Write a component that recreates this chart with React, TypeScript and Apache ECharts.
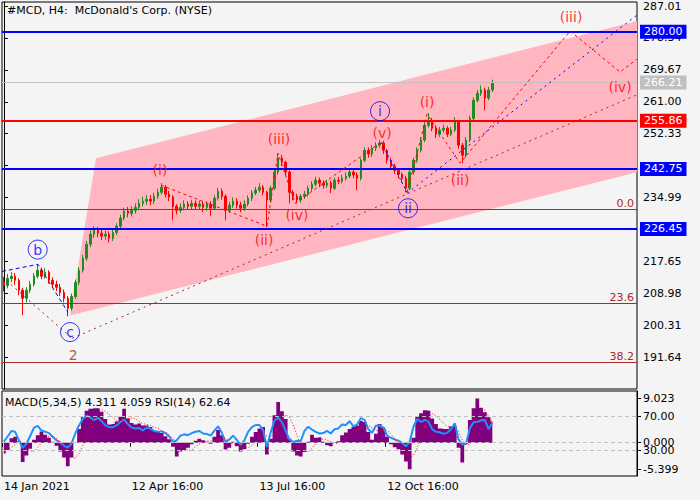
import React, { useEffect, useRef } from 'react';
import * as echarts from 'echarts';

const FONT = "'DejaVu Sans', sans-serif";
const N_SLOTS = 169;

const firstOpen = 212.0;
const closes = [
  211.1, 213.0, 213.6, 212.5, 209.8, 207.6, 209.8, 211.4, 213.6, 215.2,
  213.6, 214.7, 212.5, 211.4, 210.6, 209.2, 207.6, 204.9, 208.1, 211.9,
  215.2, 218.5, 222.3, 225.0, 226.1, 225.3, 224.5, 225.0, 223.9, 225.5,
  227.2, 229.4, 231.3, 230.7, 231.5, 232.3, 233.4, 234.0, 234.5, 234.0,
  235.3, 236.4, 237.8, 235.9, 235.1, 232.6, 231.5, 232.3, 233.2, 232.6,
  233.4, 232.6, 233.2, 232.3, 233.2, 232.1, 234.8, 236.7, 235.3, 231.5,
  232.9, 234.0, 232.9, 232.1, 233.2, 234.8, 236.2, 237.0, 237.8, 236.4,
  234.3, 237.5, 241.9, 245.7, 244.6, 241.9, 236.4, 235.3, 234.3, 235.3,
  235.9, 237.5, 238.6, 239.7, 238.9, 238.3, 238.9, 237.5, 239.7, 239.4,
  240.2, 240.8, 241.9, 241.1, 240.2, 245.1, 247.8, 246.8, 248.4, 249.2,
  249.8, 247.8, 245.1, 243.5, 242.4, 241.3, 240.2, 237.5, 241.9, 245.1,
  247.8, 250.6, 254.6, 256.0, 253.8, 252.2, 253.3, 253.8, 252.2, 253.3,
  255.5, 249.2, 246.5, 250.6, 256.5, 261.4, 263.3, 264.2, 262.0, 264.2,
  266.21,
];
const highs = [
  213.4, 214.2, 214.8, 214.5, 213.0, 210.5, 210.6, 212.3, 214.5, 216.8,
  216.0, 215.8, 215.2, 213.3, 212.4, 211.5, 210.0, 208.2, 208.9, 212.7,
  216.0, 219.4, 223.2, 226.0, 227.2, 227.0, 226.3, 226.0, 225.8, 226.4,
  228.0, 230.3, 232.2, 232.4, 232.6, 233.4, 234.5, 235.2, 235.6, 235.6,
  236.3, 237.4, 238.9, 238.4, 236.8, 235.6, 233.2, 233.4, 234.2, 234.0,
  234.4, 234.2, 234.2, 234.0, 234.0, 234.0, 235.6, 237.6, 237.4, 235.8,
  233.8, 235.0, 234.8, 233.8, 234.2, 235.6, 237.0, 237.9, 238.9, 238.4,
  236.8, 238.2, 242.6, 247.0, 246.6, 245.0, 242.4, 237.0, 236.0, 236.0,
  236.8, 238.2, 239.4, 240.6, 240.4, 239.6, 239.8, 239.6, 240.4, 240.6,
  241.2, 241.8, 242.8, 242.6, 241.8, 245.8, 248.6, 248.6, 249.2, 250.0,
  250.6, 250.4, 248.2, 245.8, 244.2, 243.0, 241.8, 240.8, 242.6, 245.8,
  248.6, 251.4, 255.4, 257.9, 256.6, 254.6, 254.2, 254.8, 254.4, 254.2,
  256.8, 255.8, 249.8, 251.4, 257.2, 262.2, 264.2, 265.4, 264.8, 265.0,
  267.0,
];
const lows = [
  209.5, 210.3, 212.0, 211.2, 208.4, 203.0, 206.5, 209.0, 210.8, 213.0,
  212.8, 212.9, 211.6, 210.4, 209.6, 208.2, 206.5, 202.7, 204.2, 207.5,
  211.2, 214.6, 217.8, 221.5, 224.0, 224.2, 223.4, 223.5, 222.8, 223.2,
  224.8, 226.6, 228.8, 229.6, 229.8, 230.6, 231.6, 232.6, 233.0, 232.9,
  233.2, 234.6, 235.8, 235.0, 234.0, 228.8, 230.4, 230.8, 231.5, 231.6,
  231.8, 231.6, 231.8, 231.0, 231.4, 230.0, 231.6, 234.2, 234.4, 228.8,
  230.8, 232.2, 232.0, 231.0, 231.4, 232.6, 234.0, 235.6, 236.4, 235.6,
  226.9, 233.6, 237.0, 241.2, 243.6, 240.8, 233.4, 234.2, 233.4, 233.6,
  234.6, 235.2, 236.8, 238.0, 237.8, 237.4, 237.6, 236.2, 237.0, 238.6,
  238.8, 239.6, 240.2, 240.2, 237.0, 239.6, 244.6, 245.8, 246.0, 247.6,
  248.4, 246.8, 244.2, 242.6, 241.4, 240.2, 239.0, 236.4, 237.0, 241.2,
  244.4, 247.2, 250.0, 254.0, 253.0, 251.2, 251.4, 252.6, 251.4, 251.6,
  252.8, 248.2, 244.3, 245.8, 250.0, 256.0, 260.8, 262.6, 258.7, 261.4,
  263.6,
];

const macdHist = [
  -2.2, -1.5, 0.9, 1.2, 0.3, -3.9, -2.6, -1.2, 0.6, 1.5,
  2.3, 1.6, 1.0, 0.2, -0.6, -1.8, -3.0, -4.8, -3.0, 0.0,
  2.8, 5.2, 6.5, 6.9, 7.0, 7.0, 6.3, 4.8, 3.7, 3.8,
  4.3, 5.3, 6.9, 4.9, 4.0, 3.7, 3.9, 3.5, 3.5, 3.2,
  2.4, 2.2, 2.0, 1.3, 0.7, -0.8, -2.8, -1.8, -1.5, -1.0,
  -0.3, 0.4, 0.8, 0.5, 0.2, -0.2, 1.2, 2.6, 1.5, -1.4,
  -1.0, 0.2, -0.7, -1.8, -1.3, -0.2, 1.2, 2.2, 2.9, 3.2,
  -2.4, 0.8, 5.6, 8.3, 6.4, 4.8, 0.8, -1.8, -2.6, -2.8,
  -1.9, 0.2, 1.6, 1.0, 1.1, 0.2, -0.5, -0.7, 0.1, 0.3,
  1.5, 2.1, 2.8, 3.2, 3.5, 4.4, 4.2, 2.2, 0.6, 1.8,
  3.8, 3.1, 1.2, -0.3, -0.9, -1.3, -2.4, -3.8, -5.4, 1.0,
  5.4, 6.0, 6.6, 6.5, 4.9, 3.8, 2.9, 2.8, 2.8, 3.3,
  3.4, -1.0, -4.0, -0.2, 4.6, 7.0, 9.0, 7.1, 6.2, 5.2,
  4.311,
];
const macdSignal = [
  -1.0, -1.4, -1.0, -0.4, 0.2, -0.5, -1.2, -1.6, -1.8, -1.0,
  0.0, 0.9, 1.3, 1.3, 0.9, 0.1, -0.8, -1.9, -2.9, -3.1,
  -2.2, -0.6, 1.3, 3.3, 5.0, 6.2, 6.7, 6.4, 5.8, 5.1,
  4.5, 4.4, 4.7, 4.9, 5.0, 4.9, 4.3, 3.9, 3.7, 3.5,
  3.2, 2.9, 2.5, 2.1, 1.6, 0.8, -0.2, -0.9, -1.3, -1.6,
  -1.5, -0.8, -0.3, 0.1, 0.4, 0.3, 0.4, 0.9, 1.2, 0.7,
  0.1, -0.2, -0.5, -0.8, -1.0, -1.0, -0.6, 0.1, 0.9, 1.9,
  1.4, 1.2, 1.9, 3.2, 4.6, 5.7, 5.2, 3.6, 1.5, -0.5,
  -1.6, -1.9, -1.1, -0.2, 0.4, 0.8, 0.5, 0.2, -0.1, -0.1,
  0.3, 0.8, 1.6, 2.2, 2.6, 3.2, 3.6, 3.5, 3.0, 2.5,
  2.4, 2.6, 2.5, 1.8, 0.9, -0.1, -1.0, -1.9, -3.0, -2.6,
  -1.0, 1.2, 3.4, 5.1, 5.9, 5.5, 4.8, 4.0, 3.3, 3.1,
  3.1, 2.3, 0.6, -0.4, -0.4, 1.3, 4.5, 6.8, 6.6, 5.4,
  4.059,
];
const rsi = [
  40.5, 46.5, 53, 52, 42, 33, 38, 47, 57, 59,
  53.5, 52, 50.5, 46, 42, 39.5, 35.5, 33.5, 38, 50,
  59.5, 67, 71, 69, 65.5, 68.5, 64.5, 59.5, 57.5, 57.5,
  59.5, 63.5, 66.5, 61, 57, 56, 56.5, 53.5, 57, 55.5,
  53, 52, 52.5, 50.5, 46.5, 40, 42, 47.5, 49, 48,
  50.5, 52, 53, 50, 49.5, 47.5, 53, 58.5, 51, 40,
  43, 47.5, 42.5, 36.5, 42, 52, 57.4, 60, 60, 54,
  34, 51, 65, 68.5, 63.5, 53, 43, 40, 41.5, 41,
  53, 58, 54.5, 52, 50, 50.5, 53, 50, 55, 56,
  60.5, 60, 64.5, 58.5, 60.5, 68, 66, 55, 51, 59,
  59.5, 57, 47.6, 45, 43, 41.5, 39, 35, 40, 58,
  67, 63.5, 66, 64, 55, 52, 51.5, 49.6, 51, 55,
  62, 43, 37, 38, 56, 63.3, 63.5, 65.5, 66, 55,
  62.64,
];

// price-axis ticks; the labels hidden under the level boxes in the reference are left out
const priceTicks = [191.64, 200.31, 208.98, 217.65, 226.32, 234.99, 243.66, 252.33, 261.0, 269.67, 278.34, 287.01];
const priceTickLabels = [191.64, 200.31, 208.98, 217.65, 234.99, 252.33, 261.0, 269.67, 278.34, 287.01];
const macdTicks = [9.023, 0, -5.399];
const rsiTicks = [70, 30];
const xTickIdx = [0, 34, 68, 102];
const xTickText = ['14 Jan 2021', '12 Apr 16:00', '13 Jul 16:00', '12 Oct 16:00'];

const levelValues = [280.0, 266.21, 255.86, 242.75, 226.45];
const levelColors = ['#0000ff', '#c0c0c0', '#ff0000', '#0000ff', '#0000ff'];
const levelWidths = [2, 1, 2, 2, 2];
const fibValues = [231.72, 206.15, 190.11];
const fibTexts = ['0.0', '23.6', '38.2'];

// annotation anchors: [bar index, price]
const channel = [[24.52, 245.67], [168.5, 282.93], [168.5, 241.86], [17.6, 202.97]];
const waveRedA = [[41.82, 238.33], [70.03, 227.18], [72.96, 247.03], [77.49, 233.43], [100.38, 250.02]];
const waveRedB = [[107.3, 236.42], [112.62, 257.64], [121.41, 244.31], [150.69, 280.21], [164.0, 269.06], [168.5, 272.59]];
const waveBlueABC = [[-0.5, 214.9], [9.08, 216.84], [17.07, 203.79]];
const waveBlueI = [[100.38, 250.02], [107.3, 236.42]];
const trendBlue = [[107.3, 236.15], [168.5, 284.56]];
const trendBrownA = [[-0.5, 213.5], [18.13, 196.72]];
const trendBrownB = [[18.13, 196.72], [168.5, 262.89]];

const circleText = ['b', 'c', 'i', 'ii'];
const circlePos = [[9.0, 220.84], [17.6, 198.43], [100.11, 258.45], [107.56, 232.07]];
const waveText = ['(i)', '(ii)', '(iii)', '(iv)', '(v)', '(i)', '(ii)', '(iii)', '(iv)', '2'];
const wavePos = [
  [41.55, 242.41], [69.24, 223.37], [73.23, 250.84], [78.0, 230.17], [100.64, 252.47],
  [112.62, 260.98], [121.41, 239.69], [150.95, 284.1], [163.99, 264.98], [18.48, 192.09],
];
const waveColors = ['#ff0000', '#ff0000', '#ff0000', '#ff0000', '#ff0000', '#ff0000', '#ff0000', '#ff0000', '#ff0000', '#a52a2a'];

const GREEN = '#228b22';
const RED = '#ff0000';

function buildOption(): any {
  const cats = Array.from({ length: N_SLOTS }, (_, i) => String(i));
  const ohlc = closes.map((c, i) => [i === 0 ? firstOpen : closes[i - 1], c, lows[i], highs[i]]);
  const showTick = (idx: number) => xTickIdx.indexOf(idx) >= 0;

  const lineSeries = (data: number[][], color: string, dash: number[], z = 5) => ({
    type: 'line',
    xAxisIndex: 1,
    yAxisIndex: 0,
    data,
    symbol: 'none',
    silent: true,
    z,
    lineStyle: { color, width: 1, type: dash },
  });

  const levelLines = levelValues.map((v, i) => ({
    yAxis: v,
    lineStyle: { color: levelColors[i], width: levelWidths[i], type: 'solid' },
    label: {
      show: true,
      position: 'end',
      distance: 3,
      formatter: v.toFixed(2),
      color: '#ffffff',
      backgroundColor: levelColors[i],
      padding: [1, 4, 1, 4],
      lineHeight: 12,
      fontSize: 11,
      fontFamily: FONT,
    },
  }));
  const fibLines = fibValues.map((v, i) => ({
    yAxis: v,
    lineStyle: { color: '#a52a2a', width: 1, type: 'solid' },
    label: {
      show: true,
      position: 'insideEndTop',
      distance: [3, 1],
      formatter: fibTexts[i],
      color: '#a52a2a',
      fontSize: 11,
      fontFamily: FONT,
    },
  }));

  const labelStyle = { fontFamily: FONT, fontSize: 11, color: '#000' };

  return {
    animation: false,
    backgroundColor: '#f4f4f4',
    textStyle: { fontFamily: FONT, fontSize: 11 },
    title: [
      {
        text: "#MCD, H4:  McDonald's Corp. (NYSE)",
        left: 7,
        top: 5,
        padding: 0,
        textStyle: { fontFamily: FONT, fontSize: 11, fontWeight: 'normal', color: '#000' },
      },
      {
        text: 'MACD(5,34,5) 4.311 4.059 RSI(14) 62.64',
        left: 5,
        top: 397,
        padding: 0,
        textStyle: { fontFamily: FONT, fontSize: 11, fontWeight: 'normal', color: '#000' },
      },
    ],
    grid: [
      { left: 2, right: 63, top: 2, height: 387, show: true, borderColor: '#000', borderWidth: 1, backgroundColor: '#f4f4f4' },
      { left: 2, right: 63, top: 391, height: 85, show: true, borderColor: '#000', borderWidth: 1, backgroundColor: '#f4f4f4' },
    ],
    xAxis: [
      { type: 'category', gridIndex: 0, data: cats, show: false },
      { type: 'value', gridIndex: 0, min: -0.5, max: N_SLOTS - 0.5, show: false },
      {
        type: 'category',
        gridIndex: 1,
        data: cats,
        axisLine: { show: false },
        axisTick: {
          show: true,
          alignWithLabel: false,
          interval: (idx: number) => showTick(idx),
          length: 4,
          lineStyle: { color: '#000' },
        },
        axisLabel: {
          interval: (idx: number) => showTick(idx),
          formatter: (v: string) => {
            const k = xTickIdx.indexOf(Number(v));
            return k >= 0 ? xTickText[k] : '';
          },
          align: 'left',
          margin: 5,
          ...labelStyle,
        },
        splitLine: { show: false },
      },
    ],
    yAxis: [
      {
        type: 'value',
        gridIndex: 0,
        position: 'right',
        min: 182.97,
        max: 288.1,
        axisLine: { show: true, lineStyle: { color: '#000' } },
        axisTick: { show: true, customValues: priceTicks, length: 4, lineStyle: { color: '#000' } },
        axisLabel: { customValues: priceTickLabels, formatter: (v: number) => v.toFixed(2), margin: 6, ...labelStyle },
        splitLine: { show: false },
      },
      {
        type: 'value',
        gridIndex: 1,
        position: 'right',
        min: -6.76,
        max: 10.51,
        axisLine: { show: true, lineStyle: { color: '#000' } },
        axisTick: { show: true, customValues: macdTicks, length: 4, lineStyle: { color: '#000' } },
        axisLabel: { customValues: macdTicks, formatter: (v: number) => v.toFixed(3), margin: 6, ...labelStyle },
        splitLine: { show: false },
      },
      {
        type: 'value',
        gridIndex: 1,
        position: 'right',
        min: 0,
        max: 100,
        axisLine: { show: false },
        axisTick: { show: true, customValues: rsiTicks, length: 4, lineStyle: { color: '#000' } },
        axisLabel: { customValues: rsiTicks, formatter: (v: number) => v.toFixed(2), margin: 6, ...labelStyle },
        splitLine: { show: false },
      },
    ],
    series: [
      {
        type: 'custom',
        xAxisIndex: 1,
        yAxisIndex: 0,
        silent: true,
        z: 1,
        data: [channel[0]],
        renderItem: (_params: any, api: any) => ({
          type: 'polygon',
          shape: { points: channel.map((p) => api.coord(p)) },
          style: { fill: '#ffb6c1' },
        }),
      },
      {
        type: 'candlestick',
        xAxisIndex: 0,
        yAxisIndex: 0,
        data: ohlc,
        barWidth: 2,
        z: 3,
        itemStyle: { color: GREEN, color0: RED, borderColor: GREEN, borderColor0: RED, borderWidth: 1 },
        markLine: {
          silent: true,
          symbol: ['none', 'none'],
          animation: false,
          data: [...fibLines, ...levelLines],
        },
      },
      lineSeries(trendBrownA, '#a52a2a', [2, 4]),
      lineSeries(trendBrownB, '#a52a2a', [2, 4]),
      lineSeries(waveBlueABC, '#0000ff', [4, 3]),
      lineSeries(waveBlueI, '#0000ff', [2, 3]),
      lineSeries(trendBlue, '#0000ff', [2, 4]),
      lineSeries(waveRedA, '#ff0000', [3, 3]),
      lineSeries(waveRedB, '#ff0000', [3, 3]),
      {
        type: 'scatter',
        xAxisIndex: 1,
        yAxisIndex: 0,
        silent: true,
        z: 6,
        symbol: 'circle',
        symbolSize: 19,
        itemStyle: { color: 'rgba(0,0,0,0)', borderColor: '#0000ff', borderWidth: 1 },
        data: circlePos.map((p, i) => ({
          value: p,
          label: { show: true, position: 'inside', formatter: circleText[i], color: '#0000ff', fontSize: 14, fontFamily: FONT },
        })),
      },
      {
        type: 'scatter',
        xAxisIndex: 1,
        yAxisIndex: 0,
        silent: true,
        z: 6,
        symbolSize: 1,
        itemStyle: { color: 'rgba(0,0,0,0)' },
        data: wavePos.map((p, i) => ({
          value: p,
          label: { show: true, position: 'inside', formatter: waveText[i], color: waveColors[i], fontSize: 14, fontFamily: FONT },
        })),
      },
      {
        // MACD histogram drawn as a stepped filled area so the columns join without seams
        type: 'line',
        xAxisIndex: 2,
        yAxisIndex: 1,
        data: macdHist,
        step: 'middle',
        symbol: 'none',
        silent: true,
        z: 2,
        lineStyle: { width: 0, color: '#800080' },
        areaStyle: { color: '#800080', opacity: 1, origin: 0 },
        markLine: {
          silent: true,
          symbol: ['none', 'none'],
          label: { show: false },
          lineStyle: { color: '#c0c0c0', type: [4, 3], width: 1 },
          data: [{ yAxis: 0 }],
        },
      },
      {
        type: 'line',
        xAxisIndex: 2,
        yAxisIndex: 2,
        data: rsi,
        symbol: 'none',
        silent: true,
        z: 3,
        lineStyle: { color: '#1e90ff', width: 2 },
        markLine: {
          silent: true,
          symbol: ['none', 'none'],
          label: { show: false },
          lineStyle: { color: '#c0c0c0', type: [4, 3], width: 1 },
          data: rsiTicks.map((v) => ({ yAxis: v })),
        },
      },
      {
        type: 'line',
        xAxisIndex: 2,
        yAxisIndex: 1,
        data: macdSignal,
        symbol: 'none',
        silent: true,
        z: 4,
        lineStyle: { color: '#ff0000', width: 1, type: [1, 2] },
      },
    ],
  };
}

export default function App() {
  const ref = useRef<HTMLDivElement>(null);
  useEffect(() => {
    if (!ref.current) return;
    const chart = echarts.init(ref.current, null, { renderer: 'svg' });
    chart.setOption(buildOption());
    return () => chart.dispose();
  }, []);
  return (
    <div
      ref={ref}
      style={{ position: 'fixed', left: 0, top: 0, width: 700, height: 500, background: '#f4f4f4' }}
    />
  );
}
